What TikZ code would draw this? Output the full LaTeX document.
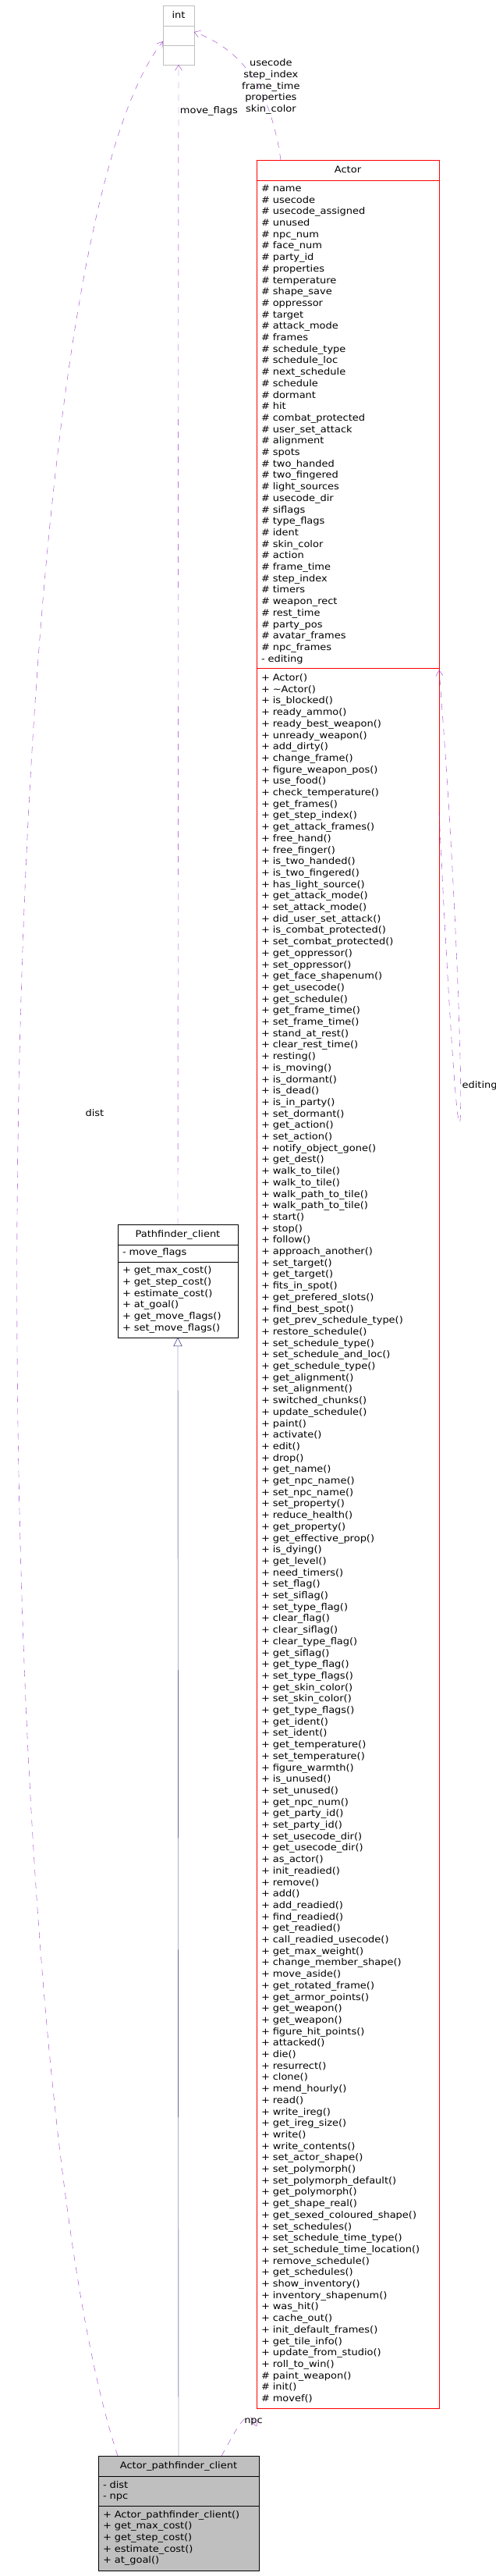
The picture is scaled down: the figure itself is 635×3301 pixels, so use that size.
\documentclass[tikz,border=0pt]{standalone}
\usepackage{fontspec}
\setmainfont{DejaVu Sans}[FakeStretch=1.1]
\usetikzlibrary{positioning,arrows.meta}
\definecolor{edgepurple}{HTML}{9A32CD}
\definecolor{inhnavy}{HTML}{191970}
\definecolor{boxgray}{HTML}{BFBFBF}
\begin{document}
\begin{tikzpicture}[
    x=1pt, y=-1pt,
    every node/.style={font=\fontsize{11.8}{14.7}\selectfont, outer sep=0pt},
    head/.style={rectangle, draw, text width=#1, inner xsep=6pt, inner ysep=7pt, text height=9pt, text depth=3pt, align=center},
    body/.style={rectangle, draw, text width=#1, inner xsep=6pt, inner ysep=6pt, align=left},
    empty/.style={rectangle, draw, text width=#1, inner xsep=6pt, minimum height=25pt},
    use/.style={edgepurple, dashed, dash pattern=on 8pt off 8pt, -{Straight Barb[length=7pt,width=9pt]}},
    inherit/.style={inhnavy, -{Triangle[open,length=11pt,width=11pt]}},
    lbl/.style={inner sep=1pt, align=center, text=black}
]
\useasboundingbox (0,0) rectangle (635,3301);

% int
\node[head=28pt, draw=boxgray, anchor=north west] (intT) at (209,7) {int};
\node[empty=28pt, draw=boxgray, below=0pt of intT] (intA) {};
\node[empty=28pt, draw=boxgray, below=0pt of intA] (intM) {};

% Actor
\node[head=222pt, draw=red, anchor=north west] (actT) at (329,205) {Actor};
\node[body=222pt, draw=red, below=0pt of actT] (actA) {\# name\\\# usecode\\\# usecode\_assigned\\\# unused\\\# npc\_num\\\# face\_num\\\# party\_id\\\# properties\\\# temperature\\\# shape\_save\\\# oppressor\\\# target\\\# attack\_mode\\\# frames\\\# schedule\_type\\\# schedule\_loc\\\# next\_schedule\\\# schedule\\\# dormant\\\# hit\\\# combat\_protected\\\# user\_set\_attack\\\# alignment\\\# spots\\\# two\_handed\\\# two\_fingered\\\# light\_sources\\\# usecode\_dir\\\# siflags\\\# type\_flags\\\# ident\\\# skin\_color\\\# action\\\# frame\_time\\\# step\_index\\\# timers\\\# weapon\_rect\\\# rest\_time\\\# party\_pos\\\# avatar\_frames\\\# npc\_frames\\- editing};
\node[body=222pt, draw=red, below=0pt of actA, inner ysep=7pt] (actM) {+ Actor()\\+ \textasciitilde Actor()\\+ is\_blocked()\\+ ready\_ammo()\\+ ready\_best\_weapon()\\+ unready\_weapon()\\+ add\_dirty()\\+ change\_frame()\\+ figure\_weapon\_pos()\\+ use\_food()\\+ check\_temperature()\\+ get\_frames()\\+ get\_step\_index()\\+ get\_attack\_frames()\\+ free\_hand()\\+ free\_finger()\\+ is\_two\_handed()\\+ is\_two\_fingered()\\+ has\_light\_source()\\+ get\_attack\_mode()\\+ set\_attack\_mode()\\+ did\_user\_set\_attack()\\+ is\_combat\_protected()\\+ set\_combat\_protected()\\+ get\_oppressor()\\+ set\_oppressor()\\+ get\_face\_shapenum()\\+ get\_usecode()\\+ get\_schedule()\\+ get\_frame\_time()\\+ set\_frame\_time()\\+ stand\_at\_rest()\\+ clear\_rest\_time()\\+ resting()\\+ is\_moving()\\+ is\_dormant()\\+ is\_dead()\\+ is\_in\_party()\\+ set\_dormant()\\+ get\_action()\\+ set\_action()\\+ notify\_object\_gone()\\+ get\_dest()\\+ walk\_to\_tile()\\+ walk\_to\_tile()\\+ walk\_path\_to\_tile()\\+ walk\_path\_to\_tile()\\+ start()\\+ stop()\\+ follow()\\+ approach\_another()\\+ set\_target()\\+ get\_target()\\+ fits\_in\_spot()\\+ get\_prefered\_slots()\\+ find\_best\_spot()\\+ get\_prev\_schedule\_type()\\+ restore\_schedule()\\+ set\_schedule\_type()\\+ set\_schedule\_and\_loc()\\+ get\_schedule\_type()\\+ get\_alignment()\\+ set\_alignment()\\+ switched\_chunks()\\+ update\_schedule()\\+ paint()\\+ activate()\\+ edit()\\+ drop()\\+ get\_name()\\+ get\_npc\_name()\\+ set\_npc\_name()\\+ set\_property()\\+ reduce\_health()\\+ get\_property()\\+ get\_effective\_prop()\\+ is\_dying()\\+ get\_level()\\+ need\_timers()\\+ set\_flag()\\+ set\_siflag()\\+ set\_type\_flag()\\+ clear\_flag()\\+ clear\_siflag()\\+ clear\_type\_flag()\\+ get\_siflag()\\+ get\_type\_flag()\\+ set\_type\_flags()\\+ get\_skin\_color()\\+ set\_skin\_color()\\+ get\_type\_flags()\\+ get\_ident()\\+ set\_ident()\\+ get\_temperature()\\+ set\_temperature()\\+ figure\_warmth()\\+ is\_unused()\\+ set\_unused()\\+ get\_npc\_num()\\+ get\_party\_id()\\+ set\_party\_id()\\+ set\_usecode\_dir()\\+ get\_usecode\_dir()\\+ as\_actor()\\+ init\_readied()\\+ remove()\\+ add()\\+ add\_readied()\\+ find\_readied()\\+ get\_readied()\\+ call\_readied\_usecode()\\+ get\_max\_weight()\\+ change\_member\_shape()\\+ move\_aside()\\+ get\_rotated\_frame()\\+ get\_armor\_points()\\+ get\_weapon()\\+ get\_weapon()\\+ figure\_hit\_points()\\+ attacked()\\+ die()\\+ resurrect()\\+ clone()\\+ mend\_hourly()\\+ read()\\+ write\_ireg()\\+ get\_ireg\_size()\\+ write()\\+ write\_contents()\\+ set\_actor\_shape()\\+ set\_polymorph()\\+ set\_polymorph\_default()\\+ get\_polymorph()\\+ get\_shape\_real()\\+ get\_sexed\_coloured\_shape()\\+ set\_schedules()\\+ set\_schedule\_time\_type()\\+ set\_schedule\_time\_location()\\+ remove\_schedule()\\+ get\_schedules()\\+ show\_inventory()\\+ inventory\_shapenum()\\+ was\_hit()\\+ cache\_out()\\+ init\_default\_frames()\\+ get\_tile\_info()\\+ update\_from\_studio()\\+ roll\_to\_win()\\\# paint\_weapon()\\\# init()\\\# movef()};

% Pathfinder_client
\node[head=142pt, anchor=north west] (pfT) at (151,1569) {Pathfinder\_client};
\node[body=142pt, below=0pt of pfT, inner ysep=5pt] (pfA) {- move\_flags};
\node[body=142pt, below=0pt of pfA] (pfM) {+ get\_max\_cost()\\+ get\_step\_cost()\\+ estimate\_cost()\\+ at\_goal()\\+ get\_move\_flags()\\+ set\_move\_flags()};

% Actor_pathfinder_client
\node[head=194pt, fill=boxgray, anchor=north west] (apcT) at (126,3147) {Actor\_pathfinder\_client};
\node[body=194pt, fill=boxgray, below=0pt of apcT] (apcA) {- dist\\- npc};
\node[body=194pt, fill=boxgray, below=0pt of apcA] (apcM) {+ Actor\_pathfinder\_client()\\+ get\_max\_cost()\\+ get\_step\_cost()\\+ estimate\_cost()\\+ at\_goal()};

% edges
\draw[inherit] (apcT.north) -- (pfM.south);
\draw[use] ([xshift=25pt]apcT.north west) .. controls (-30,2600) and (-30,350) .. ([yshift=-20pt]intT.south west)
    node[lbl, pos=0.52, right=85pt] {dist};
\draw[use] (pfT.north) -- (intM.south)
    node[lbl, pos=0.96, right=1pt] {move\_flags};
\draw[use] ([xshift=31pt]actT.north west) .. controls (345,100) and (300,60) .. ([yshift=-8pt]intA.north east)
    node[lbl, pos=0.38, right=-22pt] {usecode\\step\_index\\frame\_time\\properties\\skin\_color};
\draw[use] ([xshift=158pt]apcT.north west) .. controls (305,3110) and (318,3080) .. ([yshift=-23pt]actM.south west)
    node[lbl, pos=0.5, right=2pt] {npc};
\draw[use] ([yshift=930pt]actM.east) .. controls (600,1800) and (600,1320) .. ([yshift=-2pt]actM.north east)
    node[lbl, pos=0.53, right=1pt] {editing};

\end{tikzpicture}
\end{document}
